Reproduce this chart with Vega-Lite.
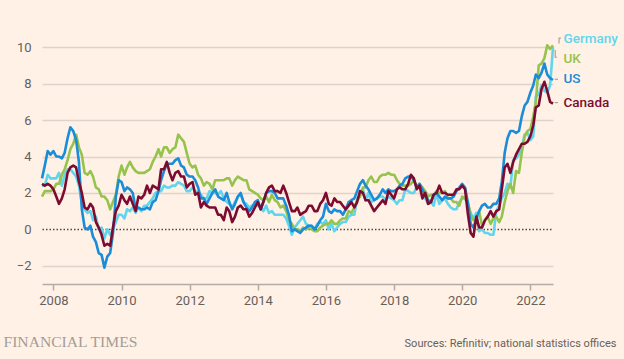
{
  "$schema": "https://vega.github.io/schema/vega-lite/v6.json",
  "width": 511,
  "height": 255,
  "autosize": "none",
  "padding": {"left": 42, "top": 29, "right": 71, "bottom": 75},
  "background": "#fff1e5",
  "config": {"view": {"stroke": null}, "font": "Roboto", "axis": {"labelFont": "Roboto", "titleFont": "Roboto"}},
  "encoding": {
    "x": {
      "field": "d", "type": "temporal",
      "scale": {"type": "utc", "domain": [{"year": 2007, "month": 9, "date": 1, "utc": true}, {"year": 2022, "month": 9, "date": 1, "utc": true}]},
      "axis": {
        "values": [
          {"year": 2008, "month": 1, "date": 1, "utc": true},
          {"year": 2010, "month": 1, "date": 1, "utc": true},
          {"year": 2012, "month": 1, "date": 1, "utc": true},
          {"year": 2014, "month": 1, "date": 1, "utc": true},
          {"year": 2016, "month": 1, "date": 1, "utc": true},
          {"year": 2018, "month": 1, "date": 1, "utc": true},
          {"year": 2020, "month": 1, "date": 1, "utc": true},
          {"year": 2022, "month": 1, "date": 1, "utc": true}
        ],
        "format": "%Y", "grid": false,
        "domain": true, "domainColor": "#b3aca6", "domainWidth": 1.5,
        "ticks": true, "tickColor": "#b3aca6", "tickSize": 6, "tickWidth": 1.5,
        "labelFontSize": 13, "labelColor": "#66605c", "labelPadding": 4,
        "title": "Sources: Refinitiv; national statistics offices",
        "titleAnchor": "end", "titleAlign": "right", "titleX": 574, "titleY": 62.5,
        "titleBaseline": "alphabetic", "titleFontSize": 11, "titleFontWeight": "normal", "titleColor": "#66605c"
      }
    },
    "y": {
      "field": "value", "type": "quantitative",
      "scale": {"domain": [-3, 11], "nice": false},
      "axis": {
        "values": [-2, 0, 2, 4, 6, 8, 10],
        "domain": false, "ticks": false, "grid": true,
        "gridColor": {"condition": {"test": "datum.value === 0", "value": "#4d4845"}, "value": "#ddd4cb"},
        "gridDash": {"condition": {"test": "datum.value === 0", "value": [1.5, 2]}, "value": []},
        "gridWidth": 1.5,
        "labelFontSize": 13, "labelColor": "#66605c", "labelPadding": 11,
        "title": "FINANCIAL TIMES", "titleAngle": 0, "titleX": -39, "titleY": 317.5,
        "titleAlign": "left", "titleBaseline": "alphabetic",
        "titleFont": "Liberation Serif", "titleFontSize": 15.6, "titleFontWeight": "normal", "titleColor": "#a39d97"
      }
    }
  },
  "layer": [
    {
      "data": {"values": [
        {"d":"2007-09-01","Germany":2.4,"UK":1.8,"US":2.8,"Canada":2.5},
        {"d":"2007-10-01","Germany":2.4,"UK":2.1,"US":3.5,"Canada":2.4},
        {"d":"2007-11-01","Germany":3.0,"UK":2.1,"US":4.3,"Canada":2.5},
        {"d":"2007-12-01","Germany":2.8,"UK":2.1,"US":4.1,"Canada":2.4},
        {"d":"2008-01-01","Germany":2.8,"UK":2.2,"US":4.3,"Canada":2.2},
        {"d":"2008-02-01","Germany":2.8,"UK":2.5,"US":4.0,"Canada":1.8},
        {"d":"2008-03-01","Germany":3.1,"UK":2.5,"US":4.0,"Canada":1.4},
        {"d":"2008-04-01","Germany":2.4,"UK":3.0,"US":3.9,"Canada":1.7},
        {"d":"2008-05-01","Germany":3.0,"UK":3.3,"US":4.2,"Canada":2.2},
        {"d":"2008-06-01","Germany":3.3,"UK":3.8,"US":5.0,"Canada":3.1},
        {"d":"2008-07-01","Germany":3.3,"UK":4.4,"US":5.6,"Canada":3.4},
        {"d":"2008-08-01","Germany":3.1,"UK":4.7,"US":5.4,"Canada":3.5},
        {"d":"2008-09-01","Germany":2.9,"UK":5.2,"US":4.9,"Canada":3.4},
        {"d":"2008-10-01","Germany":2.4,"UK":4.5,"US":3.7,"Canada":2.6},
        {"d":"2008-11-01","Germany":1.4,"UK":4.1,"US":1.1,"Canada":2.0},
        {"d":"2008-12-01","Germany":1.1,"UK":3.1,"US":0.1,"Canada":1.2},
        {"d":"2009-01-01","Germany":0.9,"UK":3.0,"US":0.0,"Canada":1.1},
        {"d":"2009-02-01","Germany":1.0,"UK":3.2,"US":0.2,"Canada":1.4},
        {"d":"2009-03-01","Germany":0.5,"UK":2.9,"US":-0.4,"Canada":1.2},
        {"d":"2009-04-01","Germany":0.7,"UK":2.3,"US":-0.7,"Canada":0.4},
        {"d":"2009-05-01","Germany":0.0,"UK":2.2,"US":-1.3,"Canada":0.1},
        {"d":"2009-06-01","Germany":0.1,"UK":1.8,"US":-1.4,"Canada":-0.3},
        {"d":"2009-07-01","Germany":-0.5,"UK":1.8,"US":-2.1,"Canada":-0.9},
        {"d":"2009-08-01","Germany":0.0,"UK":1.6,"US":-1.5,"Canada":-0.8},
        {"d":"2009-09-01","Germany":-0.3,"UK":1.1,"US":-1.3,"Canada":-0.9},
        {"d":"2009-10-01","Germany":0.0,"UK":1.5,"US":-0.2,"Canada":0.1},
        {"d":"2009-11-01","Germany":0.4,"UK":1.9,"US":1.8,"Canada":1.0},
        {"d":"2009-12-01","Germany":0.8,"UK":2.9,"US":2.7,"Canada":1.3},
        {"d":"2010-01-01","Germany":0.8,"UK":3.5,"US":2.6,"Canada":1.9},
        {"d":"2010-02-01","Germany":0.6,"UK":3.0,"US":2.1,"Canada":1.6},
        {"d":"2010-03-01","Germany":1.1,"UK":3.4,"US":2.3,"Canada":1.4},
        {"d":"2010-04-01","Germany":1.0,"UK":3.7,"US":2.2,"Canada":1.8},
        {"d":"2010-05-01","Germany":1.2,"UK":3.4,"US":2.0,"Canada":1.4},
        {"d":"2010-06-01","Germany":0.9,"UK":3.2,"US":1.1,"Canada":1.0},
        {"d":"2010-07-01","Germany":1.2,"UK":3.1,"US":1.2,"Canada":1.8},
        {"d":"2010-08-01","Germany":1.0,"UK":3.1,"US":1.1,"Canada":1.7},
        {"d":"2010-09-01","Germany":1.3,"UK":3.1,"US":1.1,"Canada":1.9},
        {"d":"2010-10-01","Germany":1.3,"UK":3.2,"US":1.2,"Canada":2.4},
        {"d":"2010-11-01","Germany":1.5,"UK":3.3,"US":1.1,"Canada":2.0},
        {"d":"2010-12-01","Germany":1.7,"UK":3.7,"US":1.5,"Canada":2.4},
        {"d":"2011-01-01","Germany":2.0,"UK":4.0,"US":1.6,"Canada":2.3},
        {"d":"2011-02-01","Germany":2.1,"UK":4.4,"US":2.1,"Canada":2.2},
        {"d":"2011-03-01","Germany":2.1,"UK":4.0,"US":2.7,"Canada":3.3},
        {"d":"2011-04-01","Germany":2.4,"UK":4.5,"US":3.2,"Canada":3.3},
        {"d":"2011-05-01","Germany":2.3,"UK":4.5,"US":3.6,"Canada":3.7},
        {"d":"2011-06-01","Germany":2.3,"UK":4.2,"US":3.6,"Canada":3.1},
        {"d":"2011-07-01","Germany":2.4,"UK":4.4,"US":3.6,"Canada":2.7},
        {"d":"2011-08-01","Germany":2.4,"UK":4.5,"US":3.8,"Canada":3.1},
        {"d":"2011-09-01","Germany":2.6,"UK":5.2,"US":3.9,"Canada":3.2},
        {"d":"2011-10-01","Germany":2.5,"UK":5.0,"US":3.5,"Canada":2.9},
        {"d":"2011-11-01","Germany":2.4,"UK":4.8,"US":3.4,"Canada":2.9},
        {"d":"2011-12-01","Germany":2.1,"UK":4.2,"US":3.0,"Canada":2.3},
        {"d":"2012-01-01","Germany":2.1,"UK":3.6,"US":2.9,"Canada":2.5},
        {"d":"2012-02-01","Germany":2.3,"UK":3.4,"US":2.9,"Canada":2.6},
        {"d":"2012-03-01","Germany":2.1,"UK":3.5,"US":2.7,"Canada":1.9},
        {"d":"2012-04-01","Germany":2.0,"UK":3.0,"US":2.3,"Canada":2.0},
        {"d":"2012-05-01","Germany":1.9,"UK":2.8,"US":1.7,"Canada":1.2},
        {"d":"2012-06-01","Germany":1.7,"UK":2.4,"US":1.7,"Canada":1.5},
        {"d":"2012-07-01","Germany":1.7,"UK":2.6,"US":1.4,"Canada":1.3},
        {"d":"2012-08-01","Germany":2.1,"UK":2.5,"US":1.7,"Canada":1.2},
        {"d":"2012-09-01","Germany":2.0,"UK":2.2,"US":2.0,"Canada":1.2},
        {"d":"2012-10-01","Germany":2.0,"UK":2.7,"US":2.2,"Canada":1.2},
        {"d":"2012-11-01","Germany":1.9,"UK":2.7,"US":1.8,"Canada":0.8},
        {"d":"2012-12-01","Germany":2.1,"UK":2.7,"US":1.7,"Canada":0.8},
        {"d":"2013-01-01","Germany":1.7,"UK":2.7,"US":1.6,"Canada":0.5},
        {"d":"2013-02-01","Germany":1.5,"UK":2.8,"US":2.0,"Canada":1.2},
        {"d":"2013-03-01","Germany":1.4,"UK":2.8,"US":1.5,"Canada":1.0},
        {"d":"2013-04-01","Germany":1.2,"UK":2.4,"US":1.1,"Canada":0.4},
        {"d":"2013-05-01","Germany":1.5,"UK":2.7,"US":1.4,"Canada":0.7},
        {"d":"2013-06-01","Germany":1.8,"UK":2.9,"US":1.8,"Canada":1.2},
        {"d":"2013-07-01","Germany":1.9,"UK":2.8,"US":2.0,"Canada":1.3},
        {"d":"2013-08-01","Germany":1.5,"UK":2.7,"US":1.5,"Canada":1.1},
        {"d":"2013-09-01","Germany":1.4,"UK":2.7,"US":1.2,"Canada":1.1},
        {"d":"2013-10-01","Germany":1.2,"UK":2.2,"US":1.0,"Canada":0.7},
        {"d":"2013-11-01","Germany":1.3,"UK":2.1,"US":1.2,"Canada":0.9},
        {"d":"2013-12-01","Germany":1.4,"UK":2.0,"US":1.5,"Canada":1.2},
        {"d":"2014-01-01","Germany":1.3,"UK":1.9,"US":1.6,"Canada":1.5},
        {"d":"2014-02-01","Germany":1.2,"UK":1.7,"US":1.1,"Canada":1.1},
        {"d":"2014-03-01","Germany":1.0,"UK":1.6,"US":1.5,"Canada":1.5},
        {"d":"2014-04-01","Germany":1.3,"UK":1.8,"US":2.0,"Canada":2.0},
        {"d":"2014-05-01","Germany":0.9,"UK":1.5,"US":2.1,"Canada":2.3},
        {"d":"2014-06-01","Germany":1.0,"UK":1.9,"US":2.1,"Canada":2.4},
        {"d":"2014-07-01","Germany":0.8,"UK":1.6,"US":2.0,"Canada":2.1},
        {"d":"2014-08-01","Germany":0.8,"UK":1.5,"US":1.7,"Canada":2.1},
        {"d":"2014-09-01","Germany":0.8,"UK":1.2,"US":1.7,"Canada":2.0},
        {"d":"2014-10-01","Germany":0.8,"UK":1.3,"US":1.7,"Canada":2.4},
        {"d":"2014-11-01","Germany":0.6,"UK":1.0,"US":1.3,"Canada":2.0},
        {"d":"2014-12-01","Germany":0.2,"UK":0.5,"US":0.8,"Canada":1.5},
        {"d":"2015-01-01","Germany":-0.3,"UK":0.3,"US":-0.1,"Canada":1.0},
        {"d":"2015-02-01","Germany":0.1,"UK":0.0,"US":0.0,"Canada":1.0},
        {"d":"2015-03-01","Germany":0.3,"UK":0.0,"US":-0.1,"Canada":1.2},
        {"d":"2015-04-01","Germany":0.5,"UK":-0.1,"US":-0.2,"Canada":0.8},
        {"d":"2015-05-01","Germany":0.7,"UK":0.1,"US":0.0,"Canada":0.9},
        {"d":"2015-06-01","Germany":0.3,"UK":0.0,"US":0.1,"Canada":1.0},
        {"d":"2015-07-01","Germany":0.2,"UK":0.1,"US":0.2,"Canada":1.3},
        {"d":"2015-08-01","Germany":0.2,"UK":0.0,"US":0.2,"Canada":1.3},
        {"d":"2015-09-01","Germany":0.0,"UK":-0.1,"US":0.0,"Canada":1.0},
        {"d":"2015-10-01","Germany":0.3,"UK":-0.1,"US":0.2,"Canada":1.0},
        {"d":"2015-11-01","Germany":0.4,"UK":0.1,"US":0.5,"Canada":1.4},
        {"d":"2015-12-01","Germany":0.3,"UK":0.2,"US":0.7,"Canada":1.6},
        {"d":"2016-01-01","Germany":0.5,"UK":0.3,"US":1.4,"Canada":2.0},
        {"d":"2016-02-01","Germany":0.0,"UK":0.3,"US":1.0,"Canada":1.4},
        {"d":"2016-03-01","Germany":0.3,"UK":0.5,"US":0.9,"Canada":1.3},
        {"d":"2016-04-01","Germany":-0.1,"UK":0.3,"US":1.1,"Canada":1.7},
        {"d":"2016-05-01","Germany":0.1,"UK":0.3,"US":1.0,"Canada":1.5},
        {"d":"2016-06-01","Germany":0.3,"UK":0.5,"US":1.0,"Canada":1.5},
        {"d":"2016-07-01","Germany":0.4,"UK":0.6,"US":0.8,"Canada":1.3},
        {"d":"2016-08-01","Germany":0.4,"UK":0.6,"US":1.1,"Canada":1.1},
        {"d":"2016-09-01","Germany":0.7,"UK":1.0,"US":1.5,"Canada":1.3},
        {"d":"2016-10-01","Germany":0.8,"UK":0.9,"US":1.6,"Canada":1.5},
        {"d":"2016-11-01","Germany":0.8,"UK":1.2,"US":1.7,"Canada":1.2},
        {"d":"2016-12-01","Germany":1.7,"UK":1.6,"US":2.1,"Canada":1.5},
        {"d":"2017-01-01","Germany":1.9,"UK":1.8,"US":2.5,"Canada":2.1},
        {"d":"2017-02-01","Germany":2.2,"UK":2.3,"US":2.7,"Canada":2.0},
        {"d":"2017-03-01","Germany":1.6,"UK":2.3,"US":2.4,"Canada":1.6},
        {"d":"2017-04-01","Germany":2.0,"UK":2.7,"US":2.2,"Canada":1.6},
        {"d":"2017-05-01","Germany":1.5,"UK":2.9,"US":1.9,"Canada":1.3},
        {"d":"2017-06-01","Germany":1.6,"UK":2.6,"US":1.6,"Canada":1.0},
        {"d":"2017-07-01","Germany":1.7,"UK":2.6,"US":1.7,"Canada":1.2},
        {"d":"2017-08-01","Germany":1.8,"UK":2.9,"US":1.9,"Canada":1.4},
        {"d":"2017-09-01","Germany":1.8,"UK":3.0,"US":2.2,"Canada":1.6},
        {"d":"2017-10-01","Germany":1.6,"UK":3.0,"US":2.0,"Canada":1.4},
        {"d":"2017-11-01","Germany":1.8,"UK":3.1,"US":2.2,"Canada":2.1},
        {"d":"2017-12-01","Germany":1.7,"UK":3.0,"US":2.1,"Canada":1.9},
        {"d":"2018-01-01","Germany":1.6,"UK":3.0,"US":2.1,"Canada":1.7},
        {"d":"2018-02-01","Germany":1.4,"UK":2.7,"US":2.2,"Canada":2.2},
        {"d":"2018-03-01","Germany":1.6,"UK":2.5,"US":2.4,"Canada":2.3},
        {"d":"2018-04-01","Germany":1.6,"UK":2.4,"US":2.5,"Canada":2.2},
        {"d":"2018-05-01","Germany":2.2,"UK":2.4,"US":2.8,"Canada":2.2},
        {"d":"2018-06-01","Germany":2.1,"UK":2.4,"US":2.9,"Canada":2.5},
        {"d":"2018-07-01","Germany":2.0,"UK":2.5,"US":2.9,"Canada":3.0},
        {"d":"2018-08-01","Germany":2.0,"UK":2.7,"US":2.7,"Canada":2.8},
        {"d":"2018-09-01","Germany":2.3,"UK":2.4,"US":2.3,"Canada":2.2},
        {"d":"2018-10-01","Germany":2.5,"UK":2.4,"US":2.5,"Canada":2.4},
        {"d":"2018-11-01","Germany":2.3,"UK":2.3,"US":2.2,"Canada":1.7},
        {"d":"2018-12-01","Germany":1.7,"UK":2.1,"US":1.9,"Canada":2.0},
        {"d":"2019-01-01","Germany":1.4,"UK":1.8,"US":1.6,"Canada":1.4},
        {"d":"2019-02-01","Germany":1.5,"UK":1.9,"US":1.5,"Canada":1.5},
        {"d":"2019-03-01","Germany":1.3,"UK":1.9,"US":1.9,"Canada":1.9},
        {"d":"2019-04-01","Germany":2.0,"UK":2.1,"US":2.0,"Canada":2.0},
        {"d":"2019-05-01","Germany":1.4,"UK":2.0,"US":1.8,"Canada":2.4},
        {"d":"2019-06-01","Germany":1.6,"UK":2.0,"US":1.6,"Canada":2.0},
        {"d":"2019-07-01","Germany":1.7,"UK":2.1,"US":1.8,"Canada":2.0},
        {"d":"2019-08-01","Germany":1.4,"UK":1.7,"US":1.7,"Canada":1.9},
        {"d":"2019-09-01","Germany":1.2,"UK":1.7,"US":1.7,"Canada":1.9},
        {"d":"2019-10-01","Germany":1.1,"UK":1.5,"US":1.8,"Canada":1.9},
        {"d":"2019-11-01","Germany":1.1,"UK":1.5,"US":2.1,"Canada":2.2},
        {"d":"2019-12-01","Germany":1.5,"UK":1.3,"US":2.3,"Canada":2.2},
        {"d":"2020-01-01","Germany":1.7,"UK":1.8,"US":2.5,"Canada":2.4},
        {"d":"2020-02-01","Germany":1.7,"UK":1.7,"US":2.3,"Canada":2.2},
        {"d":"2020-03-01","Germany":1.4,"UK":1.5,"US":1.5,"Canada":0.9},
        {"d":"2020-04-01","Germany":0.9,"UK":0.8,"US":0.3,"Canada":-0.2},
        {"d":"2020-05-01","Germany":0.6,"UK":0.5,"US":0.1,"Canada":-0.4},
        {"d":"2020-06-01","Germany":0.9,"UK":0.6,"US":0.6,"Canada":0.7},
        {"d":"2020-07-01","Germany":-0.1,"UK":1.0,"US":1.0,"Canada":0.1},
        {"d":"2020-08-01","Germany":0.0,"UK":0.2,"US":1.3,"Canada":0.1},
        {"d":"2020-09-01","Germany":-0.2,"UK":0.5,"US":1.4,"Canada":0.5},
        {"d":"2020-10-01","Germany":-0.2,"UK":0.7,"US":1.2,"Canada":0.7},
        {"d":"2020-11-01","Germany":-0.3,"UK":0.3,"US":1.2,"Canada":1.0},
        {"d":"2020-12-01","Germany":-0.3,"UK":0.6,"US":1.4,"Canada":0.7},
        {"d":"2021-01-01","Germany":1.0,"UK":0.7,"US":1.4,"Canada":1.0},
        {"d":"2021-02-01","Germany":1.3,"UK":0.4,"US":1.7,"Canada":1.1},
        {"d":"2021-03-01","Germany":1.7,"UK":0.7,"US":2.6,"Canada":2.2},
        {"d":"2021-04-01","Germany":2.0,"UK":1.5,"US":4.2,"Canada":3.4},
        {"d":"2021-05-01","Germany":2.5,"UK":2.1,"US":5.0,"Canada":3.6},
        {"d":"2021-06-01","Germany":2.3,"UK":2.5,"US":5.4,"Canada":3.1},
        {"d":"2021-07-01","Germany":3.8,"UK":2.0,"US":5.4,"Canada":3.7},
        {"d":"2021-08-01","Germany":3.9,"UK":3.2,"US":5.3,"Canada":4.1},
        {"d":"2021-09-01","Germany":4.1,"UK":3.1,"US":5.4,"Canada":4.4},
        {"d":"2021-10-01","Germany":4.5,"UK":4.2,"US":6.2,"Canada":4.7},
        {"d":"2021-11-01","Germany":5.2,"UK":5.1,"US":6.8,"Canada":4.7},
        {"d":"2021-12-01","Germany":5.3,"UK":5.4,"US":7.0,"Canada":4.8},
        {"d":"2022-01-01","Germany":4.9,"UK":5.5,"US":7.5,"Canada":5.1},
        {"d":"2022-02-01","Germany":5.1,"UK":6.2,"US":7.9,"Canada":5.7},
        {"d":"2022-03-01","Germany":7.3,"UK":7.0,"US":8.5,"Canada":6.7},
        {"d":"2022-04-01","Germany":7.4,"UK":9.0,"US":8.3,"Canada":6.8},
        {"d":"2022-05-01","Germany":7.9,"UK":9.1,"US":8.6,"Canada":7.7},
        {"d":"2022-06-01","Germany":7.6,"UK":9.4,"US":9.1,"Canada":8.1},
        {"d":"2022-07-01","Germany":7.5,"UK":10.1,"US":8.5,"Canada":7.6},
        {"d":"2022-08-01","Germany":7.9,"UK":9.9,"US":8.3,"Canada":7.0},
        {"d":"2022-09-01","Germany":10.0,"UK":10.1,"US":8.2,"Canada":6.9}
      ]},
      "transform": [{"fold": ["Germany", "UK", "US", "Canada"], "as": ["country", "value"]}],
      "mark": {"type": "line", "strokeWidth": 2.6, "strokeJoin": "round"},
      "encoding": {
        "color": {
          "field": "country", "type": "nominal",
          "scale": {"domain": ["Germany", "UK", "US", "Canada"], "range": ["#5fd6ee", "#96c34e", "#1a8cd8", "#7d0b2f"]},
          "legend": null
        }
      }
    },
    {
      "data": {"values": [
        {"country": "Germany", "d": "2022-11-05", "value": 10.2},
        {"country": "Germany", "d": "2022-11-05", "value": 10.5},
        {"country": "Germany", "d": "2022-11-25", "value": 10.5},
        {"country": "UK", "d": "2022-09-25", "value": 9.85},
        {"country": "UK", "d": "2022-09-25", "value": 9.45},
        {"country": "UK", "d": "2022-10-15", "value": 9.45},
        {"country": "US", "d": "2022-09-20", "value": 8.24},
        {"country": "US", "d": "2022-10-25", "value": 8.24},
        {"country": "Canada", "d": "2022-09-20", "value": 6.96},
        {"country": "Canada", "d": "2022-10-25", "value": 6.96}
      ]},
      "mark": {"type": "line", "color": "#a8a29c", "strokeWidth": 1.2},
      "encoding": {"detail": {"field": "country", "type": "nominal"}}
    },
    {
      "data": {"values": [
        {"country": "Germany", "d": "2022-09-01", "value": 10.46},
        {"country": "UK", "d": "2022-09-01", "value": 9.36},
        {"country": "US", "d": "2022-09-01", "value": 8.24},
        {"country": "Canada", "d": "2022-09-01", "value": 6.96}
      ]},
      "mark": {"type": "text", "align": "left", "baseline": "middle", "dx": 10.5, "fontSize": 13.5, "fontWeight": 500, "font": "Roboto"},
      "encoding": {
        "text": {"field": "country", "type": "nominal"},
        "color": {"field": "country", "type": "nominal", "legend": null}
      }
    }
  ]
}
